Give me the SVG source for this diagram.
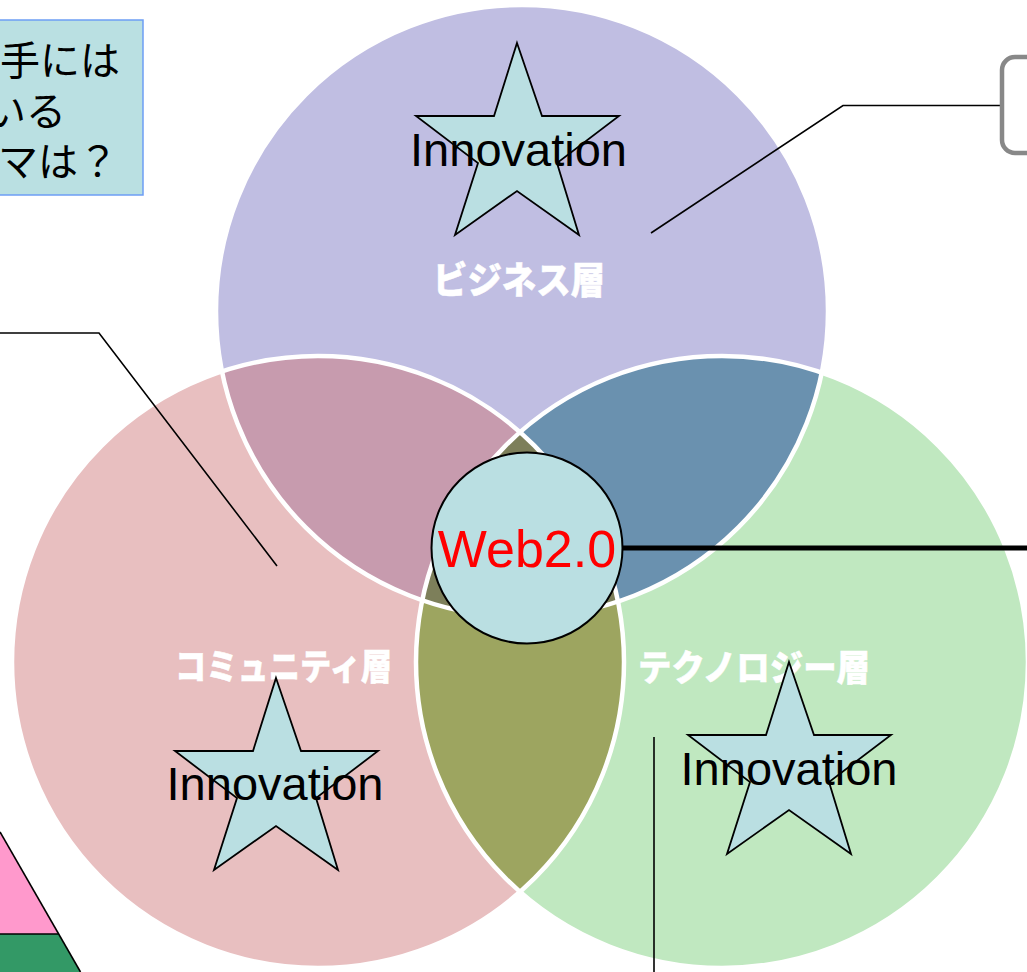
<svg xmlns="http://www.w3.org/2000/svg" xmlns:xlink="http://www.w3.org/1999/xlink" width="1027" height="972" viewBox="0 0 1027 972">
<style>
.ring{fill:none;stroke:#ffffff;stroke-width:4.5}
.star{fill:#BADFE2;stroke:#000;stroke-width:1.8;stroke-linejoin:miter}
.inno{font-family:"Liberation Sans",Arial,sans-serif;font-size:47px;fill:#000;text-anchor:middle}
.layer{font-family:"Noto Sans CJK JP",sans-serif;font-weight:900;fill:#fff;stroke:#fff;stroke-width:0.5;text-anchor:middle}
.conn{fill:none;stroke:#000;stroke-width:1.6}
.jp{font-family:"Noto Sans CJK JP",sans-serif;font-size:40px;fill:#000}
</style>
<defs>
<clipPath id="cP"><circle cx="522" cy="311" r="306"/></clipPath>
<clipPath id="cK"><circle cx="318" cy="662" r="306"/></clipPath>
<polygon id="starShape" points="0,0 25,73 102,73 40,120 62,192 0,148 -62,192 -39,120 -101,73 -23,73"/>
</defs>
<rect width="1027" height="972" fill="#fff"/>

<g id="venn">
<circle cx="522" cy="311" r="306" fill="#C0BEE2"/>
<circle cx="318" cy="662" r="306" fill="#E8BFC0"/>
<circle cx="722" cy="662" r="306" fill="#C0E8C0"/>
<circle cx="318" cy="662" r="306" fill="#C79BAE" clip-path="url(#cP)"/>
<circle cx="722" cy="662" r="306" fill="#6A91AF" clip-path="url(#cP)"/>
<circle cx="722" cy="662" r="306" fill="#9DA560" clip-path="url(#cK)"/>
<g clip-path="url(#cP)"><circle cx="722" cy="662" r="306" fill="#7D7F5A" clip-path="url(#cK)"/></g>
<circle class="ring" cx="522" cy="311" r="306"/>
<circle class="ring" cx="318" cy="662" r="306"/>
<circle class="ring" cx="722" cy="662" r="306"/>
</g>

<g id="label-business"><text class="layer" x="519" y="294" font-size="37" textLength="172" lengthAdjust="spacingAndGlyphs">ビジネス層</text></g>
<g id="label-community"><text class="layer" x="283.5" y="680" font-size="36" textLength="217" lengthAdjust="spacingAndGlyphs">コミュニティ層</text></g>
<g id="label-technology"><text class="layer" x="754" y="681" font-size="36" textLength="232" lengthAdjust="spacingAndGlyphs">テクノロジー層</text></g>

<g id="connectors">
<polyline class="conn" points="651,233 843,105.5 1002,105.5"/>
<polyline class="conn" points="0,333 99,333 277,566"/>
<line class="conn" x1="654" y1="737" x2="654" y2="972"/>
<line x1="620" y1="548" x2="1027" y2="548" stroke="#000" stroke-width="5"/>
</g>

<g id="star-top">
<use xlink:href="#starShape" class="star" transform="translate(517,43)"/>
<text class="inno" x="518.5" y="166">Innovation</text>
</g>
<g id="star-left">
<use xlink:href="#starShape" class="star" transform="translate(276,678)"/>
<text class="inno" x="275" y="800">Innovation</text>
</g>
<g id="star-right">
<use xlink:href="#starShape" class="star" transform="translate(789,662)"/>
<text class="inno" x="789" y="785">Innovation</text>
</g>

<g id="web20">
<circle cx="527" cy="548" r="95.5" fill="#BADFE2" stroke="#000" stroke-width="2"/>
<text x="527" y="567" font-family="Liberation Sans, Arial, sans-serif" font-size="52" fill="#FF0000" text-anchor="middle">Web2.0</text>
</g>

<g id="note-box">
<rect x="-5" y="20" width="148" height="175" fill="#BAE0E2" stroke="#6D9EF5" stroke-width="1.5"/>
<text class="jp" x="0" y="75">手には</text>
<text class="jp" x="-14" y="126">いる</text>
<text class="jp" x="-2" y="176">マは？</text>
</g>

<g id="bracket">
<rect x="1002" y="57" width="80" height="96" rx="13" ry="13" fill="#fff" stroke="#888888" stroke-width="4.5"/>
</g>

<g id="pyramid">
<polygon points="0,832 58.5,934 0,934" fill="#FF99CC"/>
<polygon points="0,934 58.5,934 80.5,972 0,972" fill="#339966"/>
<line x1="0" y1="832" x2="80.5" y2="972" stroke="#000" stroke-width="1.6"/>
<line x1="0" y1="934" x2="58.5" y2="934" stroke="#000" stroke-width="1.6"/>
</g>
</svg>
